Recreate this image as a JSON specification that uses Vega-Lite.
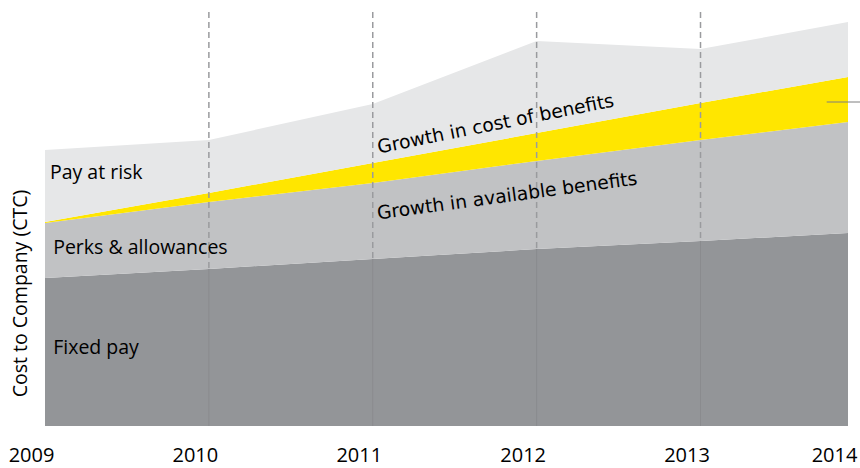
{
  "$schema": "https://vega.github.io/schema/vega-lite/v6.json",
  "width": 803,
  "height": 414,
  "autosize": "none",
  "padding": {"left": 45, "top": 12, "right": 12, "bottom": 42},
  "background": "white",
  "config": {"view": {"stroke": null}},
  "datasets": {
    "bands": [
      {"year": "2009", "pos": 2009, "band": "Fixed pay", "k": 1, "v": 148},
      {"year": "2010", "pos": 2010, "band": "Fixed pay", "k": 1, "v": 157},
      {"year": "2011", "pos": 2011, "band": "Fixed pay", "k": 1, "v": 167},
      {"year": "2012", "pos": 2012, "band": "Fixed pay", "k": 1, "v": 177},
      {"year": "2013", "pos": 2013, "band": "Fixed pay", "k": 1, "v": 185},
      {"year": "2014", "pos": 2013.9, "band": "Fixed pay", "k": 1, "v": 193},
      {"year": "2009", "pos": 2009, "band": "Perks & allowances", "k": 2, "v": 55},
      {"year": "2010", "pos": 2010, "band": "Perks & allowances", "k": 2, "v": 67},
      {"year": "2011", "pos": 2011, "band": "Perks & allowances", "k": 2, "v": 76},
      {"year": "2012", "pos": 2012, "band": "Perks & allowances", "k": 2, "v": 88},
      {"year": "2013", "pos": 2013, "band": "Perks & allowances", "k": 2, "v": 101},
      {"year": "2014", "pos": 2013.9, "band": "Perks & allowances", "k": 2, "v": 111},
      {"year": "2009", "pos": 2009, "band": "Growth in cost of benefits", "k": 3, "v": 1},
      {"year": "2010", "pos": 2010, "band": "Growth in cost of benefits", "k": 3, "v": 9},
      {"year": "2011", "pos": 2011, "band": "Growth in cost of benefits", "k": 3, "v": 20},
      {"year": "2012", "pos": 2012, "band": "Growth in cost of benefits", "k": 3, "v": 28},
      {"year": "2013", "pos": 2013, "band": "Growth in cost of benefits", "k": 3, "v": 37},
      {"year": "2014", "pos": 2013.9, "band": "Growth in cost of benefits", "k": 3, "v": 45},
      {"year": "2009", "pos": 2009, "band": "Pay at risk", "k": 4, "v": 72},
      {"year": "2010", "pos": 2010, "band": "Pay at risk", "k": 4, "v": 53},
      {"year": "2011", "pos": 2011, "band": "Pay at risk", "k": 4, "v": 59},
      {"year": "2012", "pos": 2012, "band": "Pay at risk", "k": 4, "v": 92},
      {"year": "2013", "pos": 2013, "band": "Pay at risk", "k": 4, "v": 54},
      {"year": "2014", "pos": 2013.9, "band": "Pay at risk", "k": 4, "v": 55}
    ],
    "gridlines": [
      {"pos": 2010, "top": 414, "fixed": 157},
      {"pos": 2011, "top": 414, "fixed": 167},
      {"pos": 2012, "top": 414, "fixed": 177},
      {"pos": 2013, "top": 414, "fixed": 185}
    ],
    "leftLabels": [
      {"text": "Pay at risk", "pos": 2009.03, "val": 253},
      {"text": "Perks & allowances", "pos": 2009.05, "val": 178},
      {"text": "Fixed pay", "pos": 2009.05, "val": 78}
    ],
    "slantLabels": [
      {"text": "Growth in cost of benefits", "pos": 2011.75, "val": 302, "ang": -11.3},
      {"text": "Growth in available benefits", "pos": 2011.82, "val": 230, "ang": -7.7}
    ],
    "leader": [
      {"x1": 2013.77, "x2": 2014.2, "val": 324}
    ]
  },
  "layer": [
    {
      "data": {"name": "bands"},
      "mark": {"type": "area", "interpolate": "linear", "strokeWidth": 0},
      "encoding": {
        "x": {
          "field": "pos", "type": "quantitative",
          "scale": {"domain": [2009, 2013.9], "nice": false, "zero": false},
          "axis": {
            "values": [2009, 2010, 2011, 2012, 2013, 2013.9],
            "labelExpr": "datum.value > 2013.5 ? '2014' : format(datum.value, 'd')",
            "title": null, "grid": false, "domain": false, "ticks": false,
            "labelFont": "Open Sans", "labelFontSize": 20, "labelColor": "#000000",
            "labelPadding": 19, "labelOffset": -14, "labelFlush": false, "labelOverlap": false
          }
        },
        "y": {
          "field": "v", "type": "quantitative", "stack": "zero",
          "scale": {"domain": [0, 414], "nice": false},
          "axis": {
            "title": "Cost to Company (CTC)", "labels": false, "ticks": false,
            "domain": false, "grid": false,
            "titleFont": "Open Sans", "titleFontSize": 19.5, "titleFontWeight": "normal",
            "titleColor": "#000000", "titleX": -25, "titleY": 281,
            "titleAngle": 270, "titleBaseline": "middle", "titleAlign": "center"
          }
        },
        "color": {
          "field": "band", "type": "nominal", "legend": null,
          "scale": {
            "domain": ["Fixed pay", "Perks & allowances", "Growth in cost of benefits", "Pay at risk"],
            "range": ["#939598", "#c1c2c4", "#ffe600", "#e6e7e8"]
          }
        },
        "order": {"field": "k", "type": "quantitative"}
      }
    },
    {
      "data": {"name": "gridlines"},
      "mark": {"type": "rule", "color": "#9a9b9e", "strokeWidth": 1.5, "strokeDash": [6, 4]},
      "encoding": {
        "x": {"field": "pos", "type": "quantitative"},
        "y": {"field": "top", "type": "quantitative"},
        "y2": {"field": "fixed"}
      }
    },
    {
      "data": {"name": "gridlines"},
      "mark": {"type": "rule", "color": "#8a8b8e", "strokeWidth": 1},
      "encoding": {
        "x": {"field": "pos", "type": "quantitative"},
        "y": {"field": "fixed", "type": "quantitative"},
        "y2": {"datum": 0}
      }
    },
    {
      "data": {"name": "leader"},
      "mark": {"type": "rule", "color": "#7f7f7f", "strokeWidth": 1, "clip": false},
      "encoding": {
        "x": {"field": "x1", "type": "quantitative"},
        "x2": {"field": "x2"},
        "y": {"field": "val", "type": "quantitative"}
      }
    },
    {
      "data": {"name": "leftLabels"},
      "mark": {"type": "text", "align": "left", "baseline": "middle", "font": "Open Sans", "fontSize": 19.5, "color": "#000000"},
      "encoding": {
        "x": {"field": "pos", "type": "quantitative"},
        "y": {"field": "val", "type": "quantitative"},
        "text": {"field": "text"}
      }
    },
    {
      "data": {"name": "slantLabels"},
      "mark": {"type": "text", "align": "center", "baseline": "middle", "font": "DejaVu Sans", "fontSize": 18.7, "color": "#000000"},
      "encoding": {
        "x": {"field": "pos", "type": "quantitative"},
        "y": {"field": "val", "type": "quantitative"},
        "angle": {"field": "ang", "type": "quantitative", "scale": null},
        "text": {"field": "text"}
      }
    }
  ]
}
